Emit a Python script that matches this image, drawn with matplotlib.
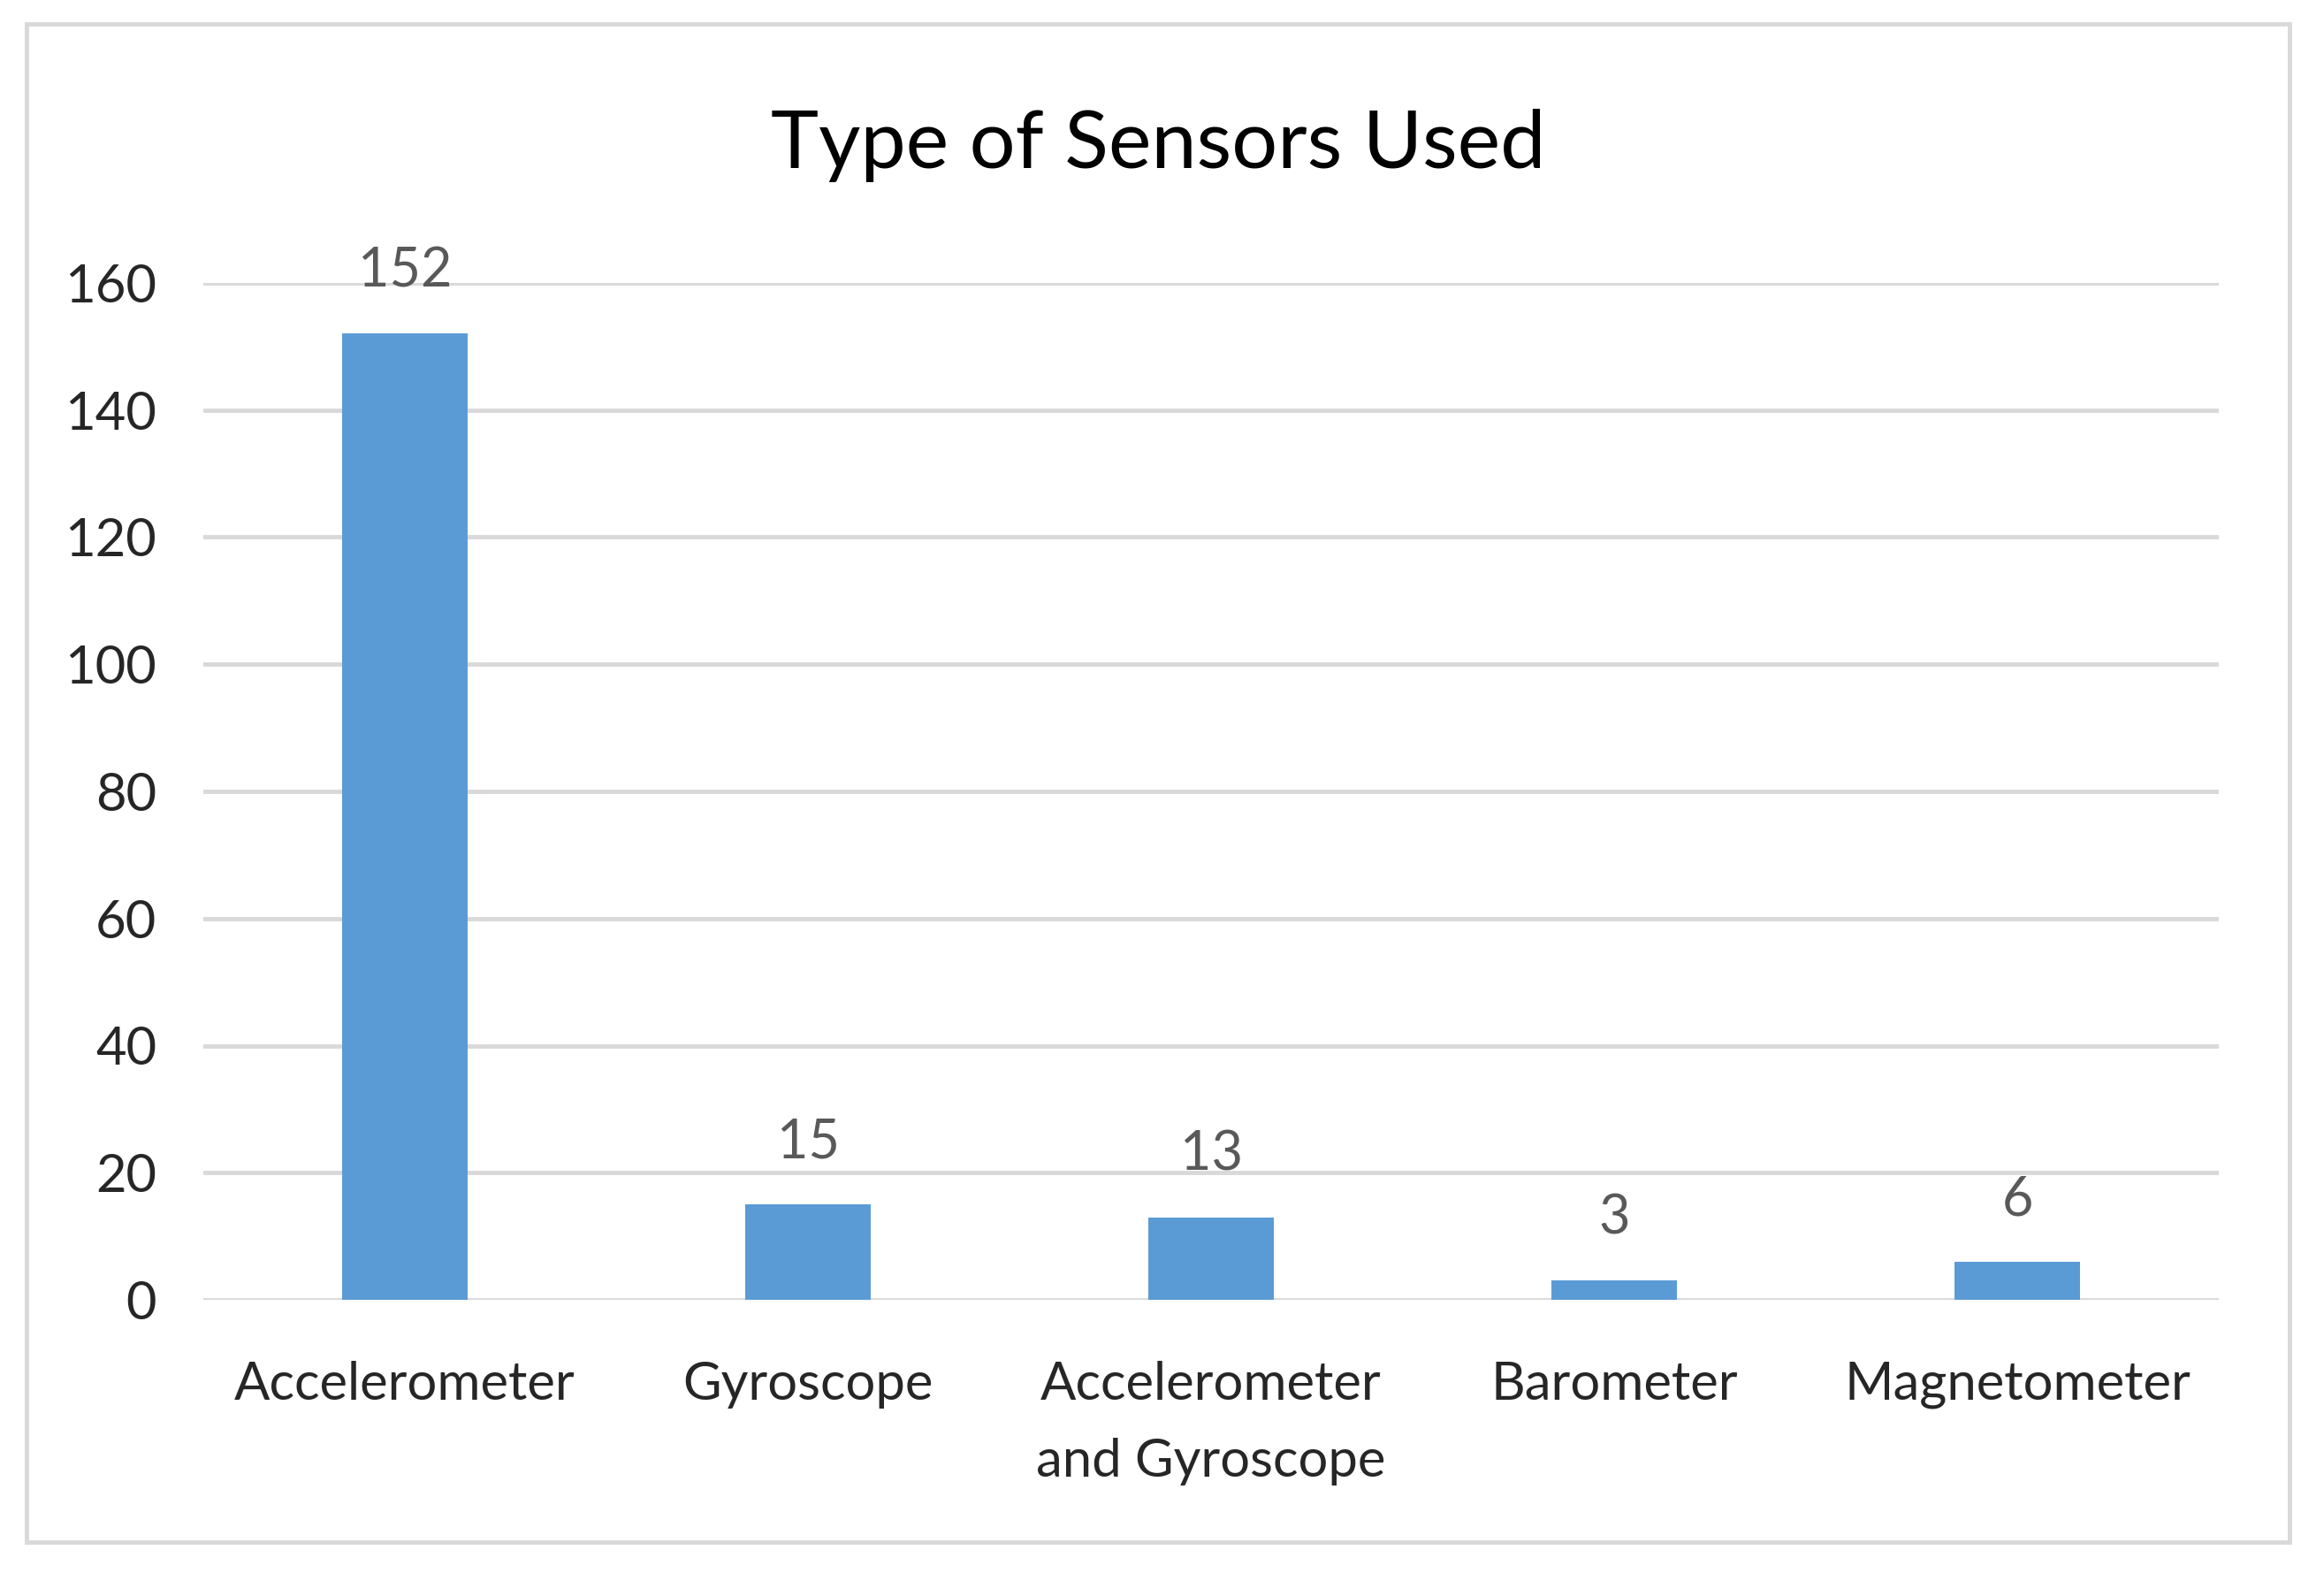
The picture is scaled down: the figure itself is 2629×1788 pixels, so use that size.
import matplotlib
matplotlib.use('Agg')
import matplotlib.pyplot as plt
from matplotlib.patches import Rectangle

# data
sensors = ['Accelerometer', 'Gyroscope', 'Accelerometer\nand Gyroscope', 'Barometer', 'Magnetometer']
counts = [152, 15, 13, 3, 6]
y_ticks = [0, 20, 40, 60, 80, 100, 120, 140, 160]

plt.rcParams['font.family'] = ['Lato', 'DejaVu Sans']

fig = plt.figure(figsize=(26.29, 17.88), dpi=100)
fig.patch.set_facecolor('white')

# outer chart border
fig.add_artist(Rectangle((30 / 2629, 1 - 1744 / 1788), (2590 - 30) / 2629, (1744 - 27) / 1788,
                         transform=fig.transFigure, fill=False, edgecolor='#D9D9D9', linewidth=3.5))

ax = fig.add_axes([230 / 2629, 1 - 1470 / 1788, (2510 - 230) / 2629, (1470 - 320) / 1788])
x = range(len(sensors))
bars = ax.bar(x, counts, width=0.31, color='#5B9BD5', zorder=3)

for b, v in zip(bars, counts):
    ax.annotate(str(v), (b.get_x() + b.get_width() / 2, v), xytext=(0, 30), textcoords='offset points',
                ha='center', va='bottom', fontsize=44, color='#595959')

ax.set_xlim(-0.5, len(sensors) - 0.5)
ax.set_ylim(0, 160)
ax.set_yticks(y_ticks)
ax.set_xticks(list(x))
ax.set_xticklabels(sensors, linespacing=1.75)
ax.tick_params(axis='both', length=0, labelsize=43, labelcolor='#262626')
ax.tick_params(axis='x', pad=50)
ax.tick_params(axis='y', pad=38)
ax.yaxis.grid(True, color='#D9D9D9', linewidth=3.5, zorder=0)
ax.set_axisbelow(True)
for s in ax.spines.values():
    s.set_visible(False)

fig.text(0.5 * (30 + 2590) / 2629, 1 - 165 / 1788, 'Type of Sensors Used', ha='center', va='center',
         fontsize=66, color='#000000')

fig.savefig('out.png', dpi=100)
